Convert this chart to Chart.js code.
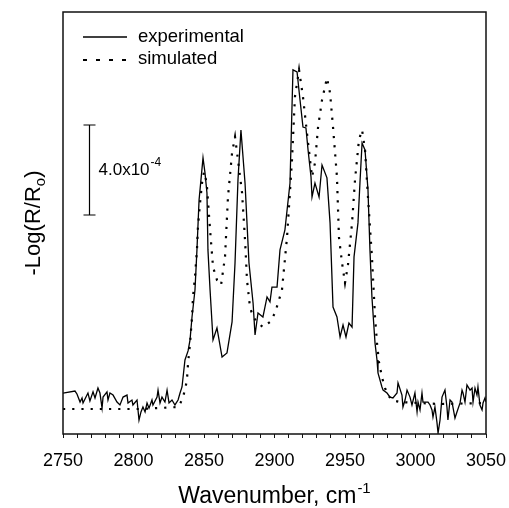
<!DOCTYPE html>
<html>
<head>
<meta charset="utf-8">
<script src="https://cdn.jsdelivr.net/npm/chart.js@4"></script>
<style>
  html, body { margin: 0; padding: 0; background: #fff; }
  #wrap { width: 509px; height: 508px; }
</style>
</head>
<body>
<div id="wrap"><canvas id="spectrum"></canvas></div>
<script>
// Experimental spectrum (wavenumber in cm-1, signal in units of 1e-4, baseline ~ 0)
const expWavenumber = [
  2750.0, 2758.5, 2759.9, 2762.1, 2763.5, 2764.2, 2767.0, 2767.7, 2769.1, 2771.3,
  2772.7, 2774.8, 2776.2, 2777.7, 2778.4, 2781.2, 2781.9, 2783.3, 2785.5, 2788.3,
  2790.4, 2792.6, 2795.4, 2796.1, 2798.9, 2799.6, 2802.5, 2803.9, 2805.3, 2806.7,
  2808.2, 2809.6, 2811.0, 2813.1, 2813.8, 2816.7, 2817.4, 2818.8, 2820.2, 2822.3,
  2823.8, 2825.2, 2827.3, 2829.4, 2831.6, 2833.0, 2834.4, 2836.5, 2838.7, 2840.1,
  2841.5, 2843.6, 2845.0, 2846.5, 2849.3, 2850.7, 2852.1, 2852.8, 2854.3, 2856.4,
  2859.2, 2862.8, 2866.3, 2869.9, 2872.0, 2874.1, 2876.2, 2879.1, 2881.9, 2884.8,
  2886.2, 2888.3, 2891.8, 2894.7, 2896.8, 2898.2, 2901.8, 2903.9, 2907.4, 2911.0,
  2913.1, 2916.0, 2918.1, 2920.2, 2922.3, 2923.8, 2925.9, 2926.6, 2928.7, 2931.6,
  2933.7, 2937.2, 2939.4, 2941.5, 2944.3, 2946.5, 2948.6, 2950.7, 2952.8, 2955.0,
  2956.4, 2959.2, 2960.6, 2962.1, 2964.2, 2966.3, 2967.7, 2969.1, 2971.3, 2972.7,
  2973.4, 2976.2, 2977.0, 2979.8, 2981.9, 2984.0, 2986.9, 2987.6, 2990.4, 2991.1,
  2992.6, 2994.0, 2996.1, 2997.5, 2999.6, 3001.1, 3001.8, 3003.2, 3004.6, 3005.3,
  3008.9, 3010.3, 3011.7, 3012.4, 3013.8, 3015.2, 3016.0, 3017.4, 3018.8, 3020.9,
  3022.3, 3023.0, 3024.5, 3025.9, 3028.0, 3029.4, 3031.6, 3033.0, 3033.7, 3035.1,
  3036.5, 3038.7, 3040.1, 3040.8, 3042.2, 3043.6, 3044.3, 3045.7, 3047.2, 3047.9,
  3049.3, 3050.0
];
const expSignal = [
  0.71, 0.80, 0.67, 0.31, 0.49, 0.27, 0.62, 0.71, 0.36, 0.76,
  0.49, 0.93, 0.71, 0.04, 0.53, 0.76, 0.40, 0.71, 0.62, 0.31,
  0.18, 0.53, 0.62, 0.27, 0.40, 0.18, 0.40, -0.49, -0.13, 0.09,
  -0.13, 0.27, 0.04, 0.40, 0.18, 0.53, 0.84, 0.27, 0.53, 0.31,
  0.84, 0.27, 0.40, 0.18, 0.40, 0.71, 0.98, 2.18, 2.58, 3.07,
  4.09, 5.29, 7.07, 9.29, 11.16, 10.49, 9.60, 7.07, 5.29, 3.07,
  3.60, 2.31, 2.49, 3.87, 6.49, 10.18, 12.40, 10.04, 6.49, 4.71,
  3.29, 4.27, 4.09, 4.98, 4.76, 5.42, 5.42, 7.07, 7.96, 10.04,
  15.07, 14.98, 13.73, 12.53, 12.49, 11.51, 10.31, 9.42, 10.04, 9.42,
  10.84, 10.27, 8.27, 4.53, 4.09, 3.20, 3.73, 3.20, 3.82, 3.64,
  6.76, 8.27, 10.04, 11.82, 11.51, 9.73, 7.07, 4.98, 2.93, 2.18,
  1.60, 0.98, 0.84, 0.71, 0.53, 0.49, 0.71, 1.16, 0.62, 0.09,
  0.40, 0.84, 0.53, 0.18, 0.71, -0.13, 0.31, -0.04, 0.71, 0.31,
  0.31, 0.18, -0.04, -0.36, 0.09, -0.58, -1.07, -0.49, 0.53, 0.84,
  0.09, -0.49, 0.40, 0.31, -0.40, -0.13, 0.27, 0.84, 0.71, 0.31,
  1.07, 0.84, 0.93, 0.31, 0.93, 0.62, 0.98, 0.18, -0.04, 0.27,
  0.49, 0.31
];

// Simulated spectrum
const simWavenumber = [
  2750.0, 2776.2, 2804.6, 2831.6, 2834.4, 2836.5, 2837.9, 2838.7, 2840.1, 2841.5,
  2842.2, 2843.6, 2845.0, 2845.7, 2847.2, 2848.6, 2850.0, 2851.4, 2852.1, 2854.3,
  2856.4, 2859.2, 2862.1, 2864.9, 2867.0, 2869.9, 2872.0, 2874.1, 2877.0, 2879.1,
  2880.5, 2882.6, 2884.8, 2888.3, 2891.8, 2896.8, 2900.4, 2905.3, 2908.9, 2912.4,
  2914.5, 2917.4, 2920.2, 2923.0, 2926.6, 2928.7, 2930.9, 2933.7, 2937.2, 2939.4,
  2941.5, 2944.3, 2945.7, 2947.9, 2950.0, 2952.1, 2955.0, 2957.1, 2959.9, 2962.1,
  2964.2, 2966.3, 2969.1, 2971.3, 2972.7, 2974.1, 2976.2, 2978.4, 2980.5, 2983.3,
  2989.0, 3017.4, 3050.0
];
const simSignal = [
  0.00, 0.00, 0.00, 0.09, 0.40, 0.84, 1.29, 2.04, 2.93, 4.09,
  4.98, 5.87, 7.07, 8.09, 9.16, 10.04, 10.53, 10.18, 9.87, 7.96,
  6.31, 5.73, 5.51, 6.76, 9.42, 11.38, 12.09, 11.07, 9.60, 7.51,
  5.73, 4.53, 4.09, 3.82, 3.64, 3.87, 4.27, 5.29, 7.64, 11.07,
  13.87, 15.07, 13.87, 12.27, 10.31, 10.93, 12.53, 13.73, 14.71, 14.04,
  12.53, 10.31, 7.64, 6.49, 5.60, 6.40, 8.27, 10.18, 11.96, 12.40,
  11.51, 9.42, 6.76, 4.09, 2.93, 2.09, 1.42, 0.93, 0.62, 0.40,
  0.31, 0.22, 0.27
];

const xTicks = [2750, 2800, 2850, 2900, 2950, 3000, 3050];
const seriesNames = ['experimental', 'simulated'];

// scale bar: 4.0 x 1e-4 absorbance
const scaleBarX = 2768.4;
const scaleBarTop = 12.62;
const scaleBarSize = 4.0;

const FONT = '"Liberation Sans", Arial, sans-serif';

function toXY(xs, ys) {
    return xs.map((x, i) => ({ x: x, y: ys[i] }));
}

// Draws frame, legend, scale bar and axis titles
const decorations = {
    id: 'decorations',
    afterDraw(chart) {
        const ctx = chart.ctx;
        const area = chart.chartArea;
        const xs = chart.scales.x;
        const ys = chart.scales.y;
        ctx.save();

        // frame
        ctx.strokeStyle = '#111';
        ctx.lineWidth = 1.5;
        ctx.setLineDash([]);
        ctx.strokeRect(area.left, area.top, area.right - area.left, area.bottom - area.top);

        // legend
        ctx.fillStyle = '#000';
        ctx.strokeStyle = '#000';
        ctx.font = '18.5px ' + FONT;
        ctx.textBaseline = 'middle';
        ctx.textAlign = 'left';
        ctx.lineWidth = 1.5;
        ctx.beginPath();
        ctx.moveTo(83, 37);
        ctx.lineTo(127, 37);
        ctx.stroke();
        ctx.fillText(seriesNames[0], 138, 37);
        ctx.lineWidth = 2;
        ctx.setLineDash([4, 9]);
        ctx.beginPath();
        ctx.moveTo(83, 60);
        ctx.lineTo(127, 60);
        ctx.stroke();
        ctx.setLineDash([]);
        ctx.fillText(seriesNames[1], 138, 59);

        // scale bar
        const bx = Math.round(xs.getPixelForValue(scaleBarX)) + 0.5;
        const by1 = ys.getPixelForValue(scaleBarTop);
        const by2 = ys.getPixelForValue(scaleBarTop - scaleBarSize);
        ctx.lineWidth = 1.2;
        ctx.beginPath();
        ctx.moveTo(bx, by1); ctx.lineTo(bx, by2);
        ctx.moveTo(bx - 6, by1); ctx.lineTo(bx + 6, by1);
        ctx.moveTo(bx - 6, by2); ctx.lineTo(bx + 6, by2);
        ctx.stroke();
        ctx.textBaseline = 'alphabetic';
        ctx.font = '17px ' + FONT;
        const main = '4.0x10';
        ctx.fillText(main, bx + 9, 175);
        const mw = ctx.measureText(main).width;
        ctx.font = '12px ' + FONT;
        ctx.fillText('-4', bx + 9 + mw + 1, 166);

        // x title
        ctx.font = '23px ' + FONT;
        const xt = 'Wavenumber, cm';
        const xtw = ctx.measureText(xt).width;
        ctx.font = '15px ' + FONT;
        const supw = ctx.measureText('-1').width;
        const x0 = 274 - (xtw + supw) / 2;
        ctx.font = '23px ' + FONT;
        ctx.fillText(xt, x0, 503);
        ctx.font = '15px ' + FONT;
        ctx.fillText('-1', x0 + xtw + 1, 493);

        // y title (rotated)
        ctx.translate(40, (area.top + area.bottom) / 2);
        ctx.rotate(-Math.PI / 2);
        ctx.font = '22px ' + FONT;
        const yt = '-Log(R/R';
        const ytw = ctx.measureText(yt).width;
        ctx.font = '15px ' + FONT;
        const subw = ctx.measureText('o').width;
        ctx.font = '22px ' + FONT;
        const closeW = ctx.measureText(')').width;
        const total = ytw + subw + closeW;
        const y0 = -total / 2;
        ctx.fillText(yt, y0, 0);
        ctx.font = '15px ' + FONT;
        ctx.fillText('o', y0 + ytw, 5);
        ctx.font = '22px ' + FONT;
        ctx.fillText(')', y0 + ytw + subw, 0);

        ctx.restore();
    }
};

new Chart(document.getElementById('spectrum'), {
    type: 'line',
    data: {
        datasets: [
            {
                label: seriesNames[0],
                data: toXY(expWavenumber, expSignal),
                borderColor: '#000',
                borderWidth: 1.3,
                pointRadius: 0,
                tension: 0,
                fill: false
            },
            {
                label: seriesNames[1],
                data: toXY(simWavenumber, simSignal),
                borderColor: '#000',
                borderWidth: 2.2,
                borderDash: [2.2, 7],
                borderCapStyle: 'butt',
                pointRadius: 0,
                tension: 0,
                fill: false
            }
        ]
    },
    options: {
        responsive: true,
        maintainAspectRatio: false,
        animation: false,
        events: [],
        layout: { padding: { left: 63, right: 23, top: 12, bottom: 0 } },
        plugins: {
            legend: { display: false },
            tooltip: { enabled: false }
        },
        scales: {
            x: {
                type: 'linear',
                min: 2750,
                max: 3050,
                border: { display: false },
                grid: {
                    drawOnChartArea: false,
                    drawTicks: true,
                    tickLength: 4,
                    color: '#111',
                    lineWidth: 1
                },
                ticks: {
                    stepSize: 10,
                    autoSkip: false,
                    maxRotation: 0,
                    padding: 12,
                    color: '#000',
                    font: { family: FONT, size: 18 },
                    callback: function(v) {
                        return xTicks.includes(v) ? String(v) : '';
                    }
                },
                afterFit: function(scale) {
                    scale.height = 74;
                    // labels at the ends may overhang, the layout padding covers them
                    scale.paddingLeft = 0;
                    scale.paddingRight = 0;
                }
            },
            y: {
                display: false,
                min: -1.11,
                max: 17.64
            }
        }
    },
    plugins: [decorations]
});
</script>
</body>
</html>
